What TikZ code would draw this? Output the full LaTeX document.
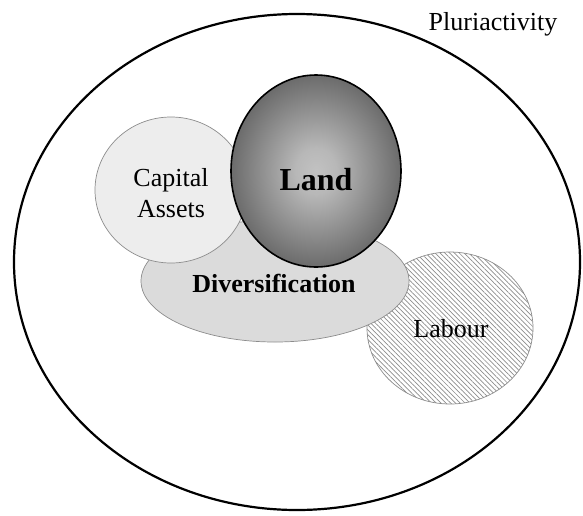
\documentclass[tikz,border=0pt]{standalone}
\usepackage{fontspec}
\setmainfont{Liberation Serif}
\usetikzlibrary{shapes.geometric,patterns.meta}

% radial grey shading for the land ball
\pgfdeclareradialshading{landshade}{\pgfpoint{0bp}{0bp}}{%
  color(0bp)=(black!24); color(6bp)=(black!28); color(34bp)=(black!72); color(50bp)=(black!76)}

\begin{document}
\begin{tikzpicture}[x=1pt,y=-1pt,
  blob/.style={ellipse,inner sep=0pt,draw=black!45,line width=0.7pt},
  txt/.style={font=\fontsize{26}{31}\selectfont,anchor=base,inner sep=0pt},
  bold/.style={txt,font=\fontsize{26}{31}\selectfont\bfseries}]
\useasboundingbox (0,0) rectangle (583,515);

% outer set
\node[ellipse,inner sep=0pt,draw=black,line width=2.2pt,
      minimum width=566pt,minimum height=496pt] (pluri) at (297,262) {};
\node[txt] (plurit) at (493,30) {Pluriactivity};

% labour (hatched), behind diversification
\node[blob,minimum width=166pt,minimum height=152pt,
      pattern={Lines[angle=-45,distance=3.4pt,line width=0.7pt]},
      pattern color=black!45] (labour) at (450,328) {};
\node[txt] (labourt) at (451,337) {Labour};

% diversification
\node[blob,fill=black!14,minimum width=268pt,minimum height=122pt] (div) at (275,281) {};
\node[bold] (divt) at (274,292) {Diversification};

% capital assets
\node[blob,fill=black!7,minimum width=152pt,minimum height=146pt] (cap) at (171,190) {};
\node[txt] (capa) at (171,186) {Capital};
\node[txt] (capb) at (171,217) {Assets};

% land
\node[ellipse,inner sep=0pt,draw=black,line width=1.6pt,shading=landshade,
      minimum width=170pt,minimum height=192pt] (land) at (316,171) {};
\node[bold,font=\fontsize{32}{38}\selectfont\bfseries] (landt) at (316,190) {Land};
\end{tikzpicture}
\end{document}
